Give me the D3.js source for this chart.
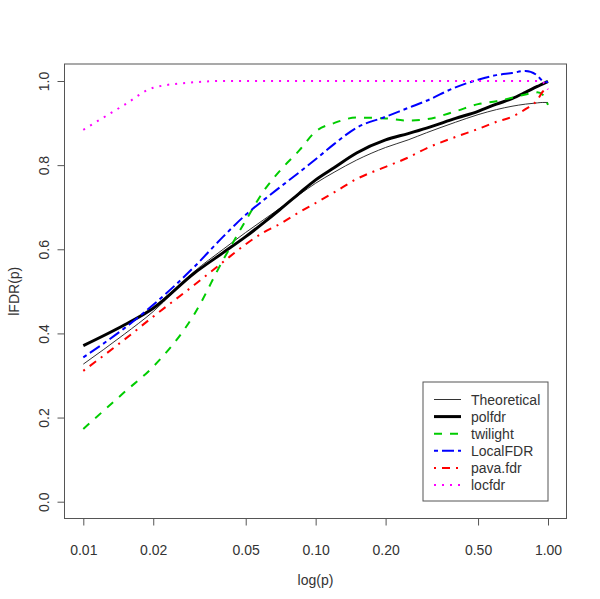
<!DOCTYPE html>
<html><head><meta charset="utf-8">
<script src="https://cdn.jsdelivr.net/npm/d3@7"></script>
<style>body{margin:0;background:#fff}svg{display:block}</style>
</head><body>
<svg id="c" width="600" height="599"></svg>
<script>
const pValues = [0.01,0.015,0.02,0.03,0.04,0.05,0.06,0.07,0.085,0.1,0.12,0.15,0.2,0.25,0.3,0.4,0.5,0.6,0.7,0.8,0.9,0.95,1.0];
const theoretical = [0.327,0.398,0.452,0.547,0.600,0.640,0.671,0.697,0.730,0.757,0.783,0.812,0.842,0.860,0.877,0.902,0.920,0.932,0.940,0.945,0.948,0.949,0.949];
const polfdr = [0.371,0.420,0.460,0.543,0.592,0.630,0.664,0.694,0.733,0.765,0.794,0.829,0.860,0.875,0.888,0.911,0.928,0.945,0.958,0.973,0.987,0.993,0.999];
const twilight = [0.173,0.260,0.321,0.445,0.575,0.668,0.740,0.786,0.835,0.880,0.900,0.913,0.911,0.906,0.909,0.928,0.945,0.952,0.960,0.968,0.973,0.967,0.943];
const localFDR = [0.343,0.412,0.468,0.558,0.630,0.682,0.718,0.747,0.783,0.814,0.850,0.889,0.915,0.936,0.953,0.985,1.003,1.014,1.019,1.024,1.013,1.000,0.997];
const pavaFdr = [0.311,0.385,0.440,0.515,0.570,0.612,0.641,0.660,0.688,0.710,0.735,0.767,0.796,0.818,0.840,0.867,0.886,0.903,0.915,0.933,0.955,0.975,0.985];
const locfdr = [0.884,0.943,0.984,0.997,1.0,1.0,1.0,1.0,1.0,1.0,1.0,1.0,1.0,1.0,1.0,1.0,1.0,1.0,1.0,1.0,1.0,0.997,0.980];
const xTicks = [0.01,0.02,0.05,0.1,0.2,0.5,1.0];
const yTicks = [0,0.2,0.4,0.6,0.8,1.0];
const seriesNames = ["Theoretical","polfdr","twilight","LocalFDR","pava.fdr","locfdr"];

const styles = [
  {color:"#333", width:1, dash:null},
  {color:"#000", width:3, dash:null},
  {color:"#00CC00", width:2, dash:"8,8"},
  {color:"#0000FF", width:2, dash:"4,4,12,4"},
  {color:"#FF0000", width:2, dash:"2,6,8,6"},
  {color:"#FF00FF", width:2, dash:"2,6"}
];
const seriesData = [theoretical,polfdr,twilight,localFDR,pavaFdr,locfdr];

const svg = d3.select("#c");
const x = d3.scaleLog().domain([0.01,1]).range([83.3,548]);
const y = d3.scaleLinear().domain([0,1]).range([501.7,81]);
const font = "'Liberation Sans', Arial, sans-serif";
const txt = "#333";

// plot box
const bx0 = 64.5, bx1 = 566.5, by0 = 64, by1 = 518.5;
svg.append("rect").attr("x",bx0).attr("y",by0).attr("width",bx1-bx0).attr("height",by1-by0)
  .attr("fill","none").attr("stroke","#555").attr("stroke-width",1);

// x axis
const xAxis = d3.axisBottom(x).tickValues(xTicks).tickFormat(d3.format(".2f")).tickSize(7).tickPadding(0);
const gx = svg.append("g").attr("transform",`translate(0,${by1})`).call(xAxis);
gx.select(".domain").remove();
gx.selectAll(".tick line").attr("stroke","#555");
gx.selectAll(".tick text").attr("font-family",font).attr("font-size",14).attr("fill",txt)
  .attr("y",36.5).attr("dy",null);

// y axis
const yAxis = d3.axisLeft(y).tickValues(yTicks).tickFormat(d3.format(".1f")).tickSize(7).tickPadding(0);
const gy = svg.append("g").attr("transform",`translate(${bx0},0)`).call(yAxis);
gy.select(".domain").remove();
gy.selectAll(".tick line").attr("stroke","#555");
gy.selectAll(".tick text").attr("font-family",font).attr("font-size",14).attr("fill",txt)
  .attr("x",null).attr("dy",null).attr("text-anchor","middle")
  .attr("transform","translate(-16,0) rotate(-90)");

// axis titles
svg.append("text").attr("x",(bx0+bx1)/2).attr("y",585).attr("text-anchor","middle")
  .attr("font-family",font).attr("font-size",14).attr("fill",txt).text("log(p)");
svg.append("text").attr("transform",`translate(18.5,${(by0+by1)/2}) rotate(-90)`).attr("text-anchor","middle")
  .attr("font-family",font).attr("font-size",14).attr("fill",txt).text("lFDR(p)");

// lines
const line = d3.line().x(d=>x(d[0])).y(d=>y(d[1])).curve(d3.curveMonotoneX);
const plot = svg.append("g");
seriesData.forEach((vals,i)=>{
  const s = styles[i];
  plot.append("path").datum(pValues.map((p,j)=>[p,vals[j]]))
    .attr("d",line).attr("fill","none").attr("stroke",s.color)
    .attr("stroke-width",s.width).attr("stroke-dasharray",s.dash);
});

// legend
const lg = svg.append("g");
lg.append("rect").attr("x",423).attr("y",382).attr("width",125).attr("height",119)
  .attr("fill","#fff").attr("stroke","#555");
seriesNames.forEach((n,i)=>{
  const s = styles[i];
  const yy = 399.5 + i*17.1;
  lg.append("line").attr("x1",434).attr("x2",461).attr("y1",yy).attr("y2",yy)
    .attr("stroke",s.color).attr("stroke-width",s.width).attr("stroke-dasharray",s.dash);
  lg.append("text").attr("x",471).attr("y",yy+5).attr("font-family",font).attr("font-size",14)
    .attr("fill",txt).text(n);
});
</script>
</body></html>
